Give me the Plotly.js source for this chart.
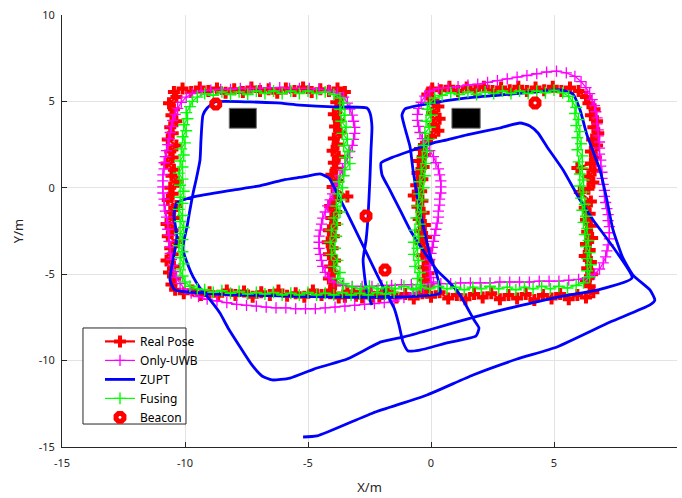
<!DOCTYPE html>
<html>
<head>
<meta charset="utf-8">
<script src="https://cdn.plot.ly/plotly-3.0.1.min.js"></script>
<style>
  html, body { margin: 0; padding: 0; background: #fff; }
  #chart { width: 682px; height: 498px; }
</style>
</head>
<body>
<div id="chart"></div>
<script>
// Ground-truth walk (figure-eight around two rooms), metres
const realPose = [
  [-2.0,-6.15],[-2.35,-6.3],[-2.7,-6.05],[-3.05,-6.25],[-3.4,-6.0],[-3.75,-6.35],[-4.1,-6.1],[-4.45,-6.2],[-4.8,-5.95],[-5.15,-6.3],[-5.5,-6.1],[-5.85,-6.25],[-6.2,-5.95],[-6.55,-6.2],[-6.9,-6.05],[-7.25,-6.3],[-7.6,-6.0],[-7.95,-6.2],[-8.3,-5.95],[-8.65,-6.25],[-9.0,-6.05],[-9.35,-6.2],[-9.7,-5.95],[-10.05,-6.1],[-10.4,-5.9],
  [-10.55,-5.6],[-10.4,-5.25],[-10.65,-4.9],[-10.45,-4.55],[-10.75,-4.2],[-10.5,-3.85],[-10.6,-3.5],[-10.3,-3.15],[-10.7,-2.8],[-10.5,-2.45],[-10.75,-2.1],[-10.45,-1.75],[-10.6,-1.4],[-10.35,-1.05],[-10.7,-0.7],[-10.5,-0.35],[-10.6,0.0],[-10.3,0.35],[-10.55,0.7],[-10.45,1.05],[-10.75,1.4],[-10.5,1.75],[-10.6,2.1],[-10.35,2.45],[-10.7,2.8],[-10.5,3.15],[-10.6,3.5],[-10.35,3.85],[-10.55,4.2],[-10.45,4.55],[-10.65,4.9],[-10.35,5.25],[-10.45,5.55],
  [-10.1,5.75],[-9.75,5.55],[-9.4,5.8],[-9.05,5.6],[-8.7,5.75],[-8.35,5.5],[-8.0,5.7],[-7.65,5.55],[-7.3,5.8],[-6.95,5.6],[-6.6,5.7],[-6.25,5.5],[-5.9,5.75],[-5.55,5.6],[-5.2,5.8],[-4.85,5.55],[-4.5,5.7],[-4.15,5.6],[-3.8,5.75],[-3.5,5.55],
  [-3.65,5.3],[-3.85,4.95],[-3.7,4.6],[-3.95,4.25],[-3.75,3.9],[-3.9,3.55],[-3.7,3.2],[-3.95,2.85],[-3.8,2.5],[-4.0,2.15],[-3.75,1.8],[-3.95,1.45],[-3.85,1.1],[-4.05,0.75],[-3.8,0.4],[-4.0,0.05],[-3.4,-0.5],[-3.9,-0.7],[-4.1,-1.05],[-3.85,-1.4],[-4.05,-1.75],[-3.9,-2.1],[-4.15,-2.45],[-3.95,-2.8],[-4.2,-3.15],[-4.0,-3.5],[-4.15,-3.85],[-3.9,-4.2],[-4.1,-4.55],[-3.95,-4.9],[-4.15,-5.25],[-3.9,-5.6],[-4.1,-5.95],
  [-3.5,-6.3],[-3.15,-6.05],[-2.8,-6.35],[-2.45,-6.1],[-2.1,-6.3],[-1.75,-6.0],[-1.4,-6.35],[-1.05,-6.15],[-0.7,-6.4],[-0.35,-6.1],[0.0,-6.3],[0.35,-6.05],[0.7,-6.4],[1.05,-6.2],[1.4,-6.45],[1.75,-6.15],[2.1,-6.35],[2.45,-6.1],[2.8,-6.45],[3.15,-6.2],[3.5,-6.4],[3.85,-6.15],[4.2,-6.5],[4.55,-6.2],[4.9,-6.4],[5.25,-6.15],[5.6,-6.45],[5.95,-6.2],[6.3,-6.35],[6.6,-6.05],
  [6.45,-5.7],[6.3,-5.35],[6.55,-5.0],[6.35,-4.65],[6.5,-4.3],[6.25,-3.95],[6.45,-3.6],[6.3,-3.25],[6.55,-2.9],[6.35,-2.55],[6.5,-2.2],[6.3,-1.85],[6.45,-1.5],[6.25,-1.15],[6.5,-0.8],[6.05,-0.25],[6.4,-0.05],[6.6,0.3],[6.4,0.65],[6.65,1.0],[5.95,1.15],[6.5,1.4],[6.7,1.75],[6.5,2.1],[6.75,2.45],[6.55,2.8],[6.8,3.15],[6.6,3.5],[6.75,3.85],[6.5,4.2],[6.65,4.55],[6.4,4.9],[6.3,5.25],
  [6.0,5.6],[5.65,5.8],[5.3,5.6],[4.95,5.85],[4.6,5.65],[4.25,5.8],[3.9,5.6],[3.55,5.85],[3.2,5.65],[2.85,5.8],[2.5,5.6],[2.15,5.85],[1.8,5.65],[1.45,5.8],[1.1,5.6],[0.75,5.85],[0.4,5.65],[0.05,5.75],[-0.15,5.4],
  [0.1,5.05],[0.3,4.7],[0.05,4.35],[0.35,4.0],[0.1,3.65],[0.3,3.3],[0.0,2.95],[-0.2,2.6],[-0.45,2.25],[-0.25,1.9],[-0.5,1.55],[-0.3,1.2],[-0.55,0.85],[-0.35,0.5],[-0.6,0.15],[-0.4,-0.2],[-0.7,-0.45],[-0.35,-0.75],[-0.55,-1.1],[-0.3,-1.45],[-0.5,-1.8],[-0.25,-2.15],[-0.45,-2.5],[-0.2,-2.85],[-0.4,-3.2],[-0.15,-3.55],[-0.35,-3.9],[-0.1,-4.25],[-0.3,-4.6],[-0.1,-4.95],[-0.3,-5.3],[-0.1,-5.65],[-0.25,-6.0]
];

// UWB-only position fixes
const onlyUwb = [
  [0.1,-5.45],[-0.3,-5.8],[-0.7,-6.1],[-1.1,-6.35],[-1.5,-6.55],[-1.9,-6.65],[-2.3,-6.7],[-2.7,-6.75],[-3.1,-6.8],[-3.5,-6.85],[-3.9,-6.9],[-4.3,-6.95],[-4.7,-7.0],[-5.1,-7.0],[-5.5,-7.0],[-5.9,-6.95],[-6.3,-6.95],[-6.7,-6.9],[-7.1,-6.85],[-7.5,-6.8],[-7.9,-6.75],[-8.3,-6.65],[-8.7,-6.55],[-9.1,-6.45],[-9.45,-6.3],[-9.75,-6.1],[-10.0,-5.85],[-10.2,-5.55],
  [-10.35,-5.2],[-10.45,-4.85],[-10.5,-4.5],[-10.55,-4.15],[-10.6,-3.8],[-10.6,-3.45],[-10.65,-3.1],[-10.65,-2.75],[-10.7,-2.4],[-10.7,-2.05],[-10.75,-1.7],[-10.8,-1.35],[-10.85,-1.0],[-10.85,-0.65],[-10.9,-0.3],[-10.9,0.05],[-10.9,0.4],[-10.9,0.75],[-10.85,1.1],[-10.85,1.45],[-10.8,1.8],[-10.75,2.15],[-10.7,2.5],[-10.65,2.85],[-10.6,3.2],[-10.55,3.55],[-10.5,3.9],[-10.4,4.25],[-10.3,4.6],[-10.15,4.95],[-9.95,5.25],[-9.7,5.45],
  [-9.35,5.6],[-8.95,5.65],[-8.55,5.7],[-8.15,5.7],[-7.75,5.75],[-7.35,5.75],[-6.95,5.75],[-6.55,5.8],[-6.15,5.8],[-5.75,5.75],[-5.35,5.75],[-4.95,5.75],[-4.55,5.7],[-4.15,5.65],[-3.8,5.5],
  [-3.55,5.25],[-3.4,4.9],[-3.3,4.55],[-3.2,4.2],[-3.15,3.85],[-3.1,3.5],[-3.1,3.15],[-3.15,2.8],[-3.2,2.45],[-3.3,2.1],[-3.4,1.75],[-3.5,1.4],[-3.6,1.05],[-3.7,0.7],[-3.8,0.35],[-3.9,0.0],[-4.0,-0.35],[-4.1,-0.7],[-4.2,-1.05],[-4.3,-1.4],[-4.4,-1.75],[-4.45,-2.1],[-4.5,-2.45],[-4.55,-2.8],[-4.55,-3.15],[-4.55,-3.5],[-4.5,-3.85],[-4.45,-4.2],[-4.4,-4.55],[-4.3,-4.9],[-4.15,-5.2],[-3.95,-5.45],
  [-3.6,-5.65],[-3.2,-5.7],[-2.8,-5.7],[-2.4,-5.7],[-2.0,-5.65],[-1.6,-5.65],[-1.2,-5.6],[-0.8,-5.6],[-0.4,-5.6],[0.0,-5.55],[0.4,-5.55],[0.8,-5.55],[1.2,-5.5],[1.6,-5.5],[2.0,-5.5],[2.4,-5.5],[2.8,-5.45],[3.2,-5.45],[3.6,-5.45],[4.0,-5.45],[4.4,-5.4],[4.8,-5.4],[5.2,-5.4],[5.6,-5.35],[6.0,-5.3],[6.35,-5.2],[6.65,-5.0],
  [6.85,-4.7],[7.0,-4.35],[7.1,-4.0],[7.15,-3.65],[7.2,-3.3],[7.25,-2.95],[7.25,-2.6],[7.25,-2.25],[7.2,-1.9],[7.2,-1.55],[7.15,-1.2],[7.1,-0.85],[7.05,-0.5],[7.05,-0.15],[7.0,0.2],[6.95,0.55],[6.95,0.9],[6.9,1.25],[6.9,1.6],[6.85,1.95],[6.85,2.3],[6.85,2.65],[6.8,3.0],[6.8,3.35],[6.75,3.7],[6.75,4.05],[6.7,4.4],[6.65,4.75],[6.55,5.1],[6.45,5.45],[6.3,5.8],[6.1,6.15],[5.85,6.45],
  [5.5,6.65],[5.1,6.75],[4.7,6.7],[4.3,6.6],[3.9,6.5],[3.5,6.4],[3.1,6.3],[2.7,6.2],[2.3,6.1],[1.9,6.0],[1.5,5.95],[1.1,5.85],[0.7,5.8],[0.3,5.75],[-0.05,5.6],
  [-0.25,5.3],[-0.4,4.95],[-0.5,4.6],[-0.55,4.25],[-0.55,3.9],[-0.5,3.55],[-0.45,3.2],[-0.35,2.85],[-0.2,2.5],[-0.05,2.15],[0.1,1.8],[0.2,1.45],[0.3,1.1],[0.35,0.75],[0.4,0.4],[0.4,0.05],[0.4,-0.3],[0.35,-0.65],[0.35,-1.0],[0.3,-1.35],[0.3,-1.7],[0.25,-2.05],[0.2,-2.4],[0.15,-2.75],[0.1,-3.1],[0.05,-3.45],[0.0,-3.8],[-0.05,-4.15],[-0.05,-4.5],[-0.05,-4.85],[0.0,-5.2]
];

// Foot-mounted IMU dead reckoning with zero-velocity updates
const zupt = [
  [-2.40,-6.78],[-2.60,-6.09],[-2.76,-4.18],[-2.64,-3.02],[-2.56,-1.69],[-2.48,0.63],[-2.44,2.19],[-2.40,3.52],[-2.48,4.33],[-2.60,4.62],
  [-3.98,4.68],[-5.33,4.79],[-6.26,4.91],[-7.36,4.97],[-8.78,4.97],[-9.10,4.62],[-9.27,4.21],[-9.35,2.77],[-9.39,1.61],[-9.55,0.45],
  [-9.67,-0.30],[-9.80,-1.28],[-9.92,-2.27],[-10.04,-3.02],[-10.08,-3.60],[-9.88,-4.47],[-9.67,-5.16],[-9.39,-5.80],[-8.98,-6.49],[-8.58,-7.25],
  [-8.25,-8.11],[-7.76,-9.21],[-7.28,-10.25],[-6.87,-10.89],[-6.46,-11.12],[-5.73,-11.01],[-4.76,-10.49],[-3.41,-9.91],[-2.03,-8.92],[-1.10,-8.63],
  [-0.08,-8.23],[1.75,-7.48],[3.37,-6.90],[5.16,-6.32],[6.79,-5.91],[8.17,-5.22],
  [7.40,-3.43],[6.59,-1.86],[6.06,-0.71],[5.37,1.03],[4.72,2.36],[4.35,3.17],[4.02,3.58],[3.62,3.75],[2.80,3.46],[1.46,3.06],
  [0.65,2.77],[0.08,2.59],[-0.73,2.19],[-1.54,1.78],[-2.03,1.44],[-1.99,0.74],[-1.67,-0.13],[-1.26,-1.28],[-0.85,-2.44],[-0.33,-3.60],
  [0.24,-4.76],[0.77,-5.51],[1.18,-6.20],[1.46,-6.90],[1.75,-7.65],[1.95,-8.11],[1.83,-8.58],[0.65,-8.98],[-0.45,-9.39],[-0.93,-9.44],
  [-1.14,-8.92],[-1.30,-7.94],[-1.50,-6.96],[-1.67,-6.49],[-1.95,-5.74],[-2.48,-4.18],[-3.01,-2.62],[-3.41,-1.46],[-3.82,-0.30],[-4.15,0.57],
  [-4.51,0.80],[-5.20,0.63],[-6.02,0.45],[-7.03,0.10],[-8.05,-0.13],[-9.67,-0.53],[-10.33,-0.88],[-10.45,-1.57],[-10.33,-2.85],[-10.49,-4.18],
  [-10.61,-5.34],[-10.41,-5.91],[-8.58,-6.15],[-6.14,-6.26],[-3.70,-6.32],[-1.26,-6.32],[0.37,-6.09],
  [0.24,-5.05],[-0.04,-3.89],[-0.28,-2.44],[-0.53,-0.71],[-0.73,1.03],[-0.85,2.36],[-1.06,3.46],[-1.18,4.21],[-1.06,4.56],
  [0.08,4.91],[1.46,5.20],[2.80,5.37],[4.15,5.54],[5.24,5.66],[5.77,5.43],[6.06,4.50],[6.34,3.06],[6.87,1.03],[7.15,-0.71],
  [7.40,-2.44],[7.80,-4.06],[8.21,-5.05],[8.90,-5.91],[9.10,-6.49],[8.90,-6.78],[7.28,-7.77],[5.12,-9.21],[3.50,-9.91],[1.71,-10.83],
  [-0.16,-11.99],[-2.36,-13.03],[-4.63,-14.36],[-5.20,-14.42]
];

// UWB + IMU fused estimate
const fusing = [
  [-1.5,-6.05],[-1.85,-6.15],[-2.2,-6.05],[-2.55,-6.2],[-2.9,-6.1],[-3.25,-6.2],[-3.6,-6.05],[-3.95,-6.2],[-4.3,-6.1],[-4.65,-6.2],[-5.0,-6.05],[-5.35,-6.2],[-5.7,-6.1],[-6.05,-6.2],[-6.4,-6.05],[-6.75,-6.15],[-7.1,-6.05],[-7.45,-6.15],[-7.8,-6.0],[-8.15,-6.1],[-8.5,-5.95],[-8.85,-6.05],[-9.2,-5.9],[-9.5,-5.85],[-9.8,-5.7],[-10.0,-5.45],
  [-10.1,-5.1],[-10.2,-4.75],[-10.05,-4.4],[-10.2,-4.05],[-10.1,-3.7],[-10.25,-3.35],[-10.1,-3.0],[-10.2,-2.65],[-10.05,-2.3],[-10.2,-1.95],[-10.1,-1.6],[-10.25,-1.25],[-10.1,-0.9],[-10.2,-0.55],[-10.05,-0.2],[-10.2,0.15],[-10.1,0.5],[-10.25,0.85],[-10.1,1.2],[-10.2,1.55],[-10.05,1.9],[-10.15,2.25],[-10.0,2.6],[-10.1,2.95],[-9.95,3.3],[-10.05,3.65],[-9.9,4.0],[-9.95,4.35],[-9.8,4.7],[-9.7,5.0],[-9.5,5.25],
  [-9.2,5.45],[-8.85,5.35],[-8.5,5.55],[-8.15,5.4],[-7.8,5.55],[-7.45,5.4],[-7.1,5.6],[-6.75,5.45],[-6.4,5.6],[-6.05,5.45],[-5.7,5.6],[-5.35,5.45],[-5.0,5.6],[-4.65,5.45],[-4.3,5.55],[-3.95,5.4],[-3.7,5.2],
  [-3.55,4.9],[-3.7,4.55],[-3.5,4.2],[-3.65,3.85],[-3.45,3.5],[-3.6,3.15],[-3.4,2.8],[-3.55,2.45],[-3.35,2.1],[-3.5,1.75],[-3.3,1.4],[-3.5,1.05],[-3.55,0.7],[-3.75,0.35],[-3.6,0.0],[-3.8,-0.35],[-3.65,-0.7],[-3.85,-1.05],[-3.7,-1.4],[-3.95,-1.75],[-3.8,-2.1],[-4.05,-2.45],[-3.85,-2.8],[-4.1,-3.15],[-3.9,-3.5],[-4.05,-3.85],[-3.8,-4.2],[-3.95,-4.55],[-3.7,-4.9],[-3.8,-5.25],[-3.55,-5.55],
  [-3.2,-5.75],[-2.85,-5.85],[-2.5,-5.7],[-2.15,-5.85],[-1.8,-5.75],[-1.45,-5.85],[-1.1,-5.7],[-0.75,-5.85],[-0.4,-5.75],[-0.05,-5.85],[0.3,-5.7],[0.65,-5.85],[1.0,-5.75],[1.35,-5.9],[1.7,-5.75],[2.05,-5.85],[2.4,-5.7],[2.75,-5.85],[3.1,-5.75],[3.45,-5.9],[3.8,-5.75],[4.15,-5.85],[4.5,-5.7],[4.85,-5.85],[5.2,-5.7],[5.55,-5.8],[5.9,-5.65],[6.2,-5.5],
  [6.45,-5.15],[6.35,-4.8],[6.5,-4.45],[6.35,-4.1],[6.45,-3.75],[6.3,-3.4],[6.4,-3.05],[6.25,-2.7],[6.35,-2.35],[6.2,-2.0],[6.3,-1.65],[6.15,-1.3],[6.25,-0.95],[6.1,-0.6],[6.2,-0.25],[6.05,0.1],[6.2,0.45],[6.05,0.8],[6.15,1.15],[6.0,1.5],[6.15,1.85],[5.95,2.2],[6.1,2.55],[5.95,2.9],[6.05,3.25],[5.9,3.6],[6.0,3.95],[5.85,4.3],[5.9,4.65],[5.75,5.0],[5.6,5.3],
  [5.35,5.5],[5.0,5.65],[4.65,5.5],[4.3,5.6],[3.95,5.45],[3.6,5.6],[3.25,5.45],[2.9,5.6],[2.55,5.45],[2.2,5.55],[1.85,5.4],[1.5,5.55],[1.15,5.4],[0.8,5.5],[0.45,5.35],[0.15,5.2],
  [-0.05,4.9],[-0.15,4.55],[0.0,4.2],[-0.2,3.85],[-0.05,3.5],[-0.25,3.15],[-0.1,2.8],[-0.3,2.45],[-0.15,2.1],[-0.35,1.75],[-0.2,1.4],[-0.4,1.05],[-0.25,0.7],[-0.45,0.35],[-0.3,0.0],[-0.5,-0.35],[-0.35,-0.7],[-0.55,-1.05],[-0.4,-1.4],[-0.6,-1.75],[-0.45,-2.1],[-0.65,-2.45],[-0.5,-2.8],[-0.7,-3.15],[-0.55,-3.5],[-0.7,-3.85],[-0.5,-4.2],[-0.65,-4.55],[-0.45,-4.9],[-0.55,-5.25],[-0.4,-5.6],[-0.6,-5.9]
];

// UWB anchor positions
const beacons = [[-8.75,4.85],[-2.64,-1.63],[-1.87,-4.76],[4.23,4.91]];

// Furniture blocks: [x0, x1, y0, y1]
const obstacles = [[-8.2,-7.1,3.45,4.6],[0.85,2.0,3.45,4.6]];

const axisTicks = [-15,-10,-5,0,5,10];
const seriesNames = ['Real Pose','Only-UWB','ZUPT','Fusing','Beacon'];

const xs = pts => pts.map(p => p[0]);
const ys = pts => pts.map(p => p[1]);

const FONT = '"Noto Sans", "DejaVu Sans", sans-serif';
const INK = '#262626';

const traces = [
  {
    name: seriesNames[0], x: xs(realPose), y: ys(realPose),
    mode: 'lines+markers', type: 'scatter',
    line: {color: '#ff0000', width: 2.2},
    marker: {symbol: 'cross', size: 10, color: '#ff0000', line: {width: 0}}
  },
  {
    name: seriesNames[1], x: xs(onlyUwb), y: ys(onlyUwb),
    mode: 'lines+markers', type: 'scatter',
    line: {color: '#ff00ff', width: 1.2},
    marker: {symbol: 'cross-thin', size: 8, color: '#ff00ff', line: {width: 1.3, color: '#ff00ff'}}
  },
  {
    name: seriesNames[2], x: xs(zupt), y: ys(zupt),
    mode: 'lines', type: 'scatter',
    line: {color: '#0000ff', width: 2.8, shape: 'spline', smoothing: 0.5}
  },
  {
    name: seriesNames[3], x: xs(fusing), y: ys(fusing),
    mode: 'lines+markers', type: 'scatter',
    line: {color: '#00ff00', width: 1.2},
    marker: {symbol: 'cross-thin', size: 8.5, color: '#00ff00', line: {width: 1.4, color: '#00ff00'}}
  },
  {
    name: seriesNames[4], x: xs(beacons), y: ys(beacons),
    mode: 'markers', type: 'scatter',
    marker: {symbol: 'octagon-open', size: 8.5, color: '#ff0000', line: {width: 5, color: '#ff0000'}}
  }
];

const shapes = obstacles.map(o => ({
  type: 'rect', xref: 'x', yref: 'y', x0: o[0], x1: o[1], y0: o[2], y1: o[3],
  fillcolor: '#000000', line: {color: '#6e6e6e', width: 1}, layer: 'above'
}));

// legend frame
shapes.push({
  type: 'rect', xref: 'paper', yref: 'paper',
  x0: 0.0341, x1: 0.2016, y0: 0.0532, y1: 0.2755,
  fillcolor: '#ffffff', line: {color: INK, width: 1}, layer: 'above'
});

const axisCommon = {
  range: [-15, 10], tickmode: 'array', tickvals: axisTicks, ticktext: axisTicks.map(String),
  showgrid: true, gridcolor: '#e3e3e3', gridwidth: 1, zeroline: false,
  showline: true, linecolor: INK, linewidth: 1,
  ticks: 'inside', ticklen: 5, tickcolor: INK, tickwidth: 1,
  tickfont: {family: FONT, size: 11, color: INK},
  fixedrange: true
};

const layout = {
  width: 682, height: 498,
  margin: {l: 62, r: 5, t: 15, b: 51, pad: 0},
  paper_bgcolor: '#ffffff', plot_bgcolor: '#ffffff',
  showlegend: true,
  legend: {
    x: 0.0618, y: 0.278, xanchor: 'left', yanchor: 'top',
    bgcolor: 'rgba(0,0,0,0)', borderwidth: 0,
    font: {family: FONT, size: 12, color: '#000000'}
  },
  xaxis: Object.assign({}, axisCommon, {
    title: {text: 'X/m', font: {family: FONT, size: 13, color: INK}, standoff: 13},
    ticklabelstandoff: 6
  }),
  yaxis: Object.assign({}, axisCommon, {
    title: {text: 'Y/m', font: {family: FONT, size: 13, color: INK}, standoff: 12},
    ticklabelstandoff: 4
  }),
  shapes: shapes
};

Plotly.newPlot('chart', traces, layout, {displayModeBar: false, staticPlot: true});
</script>
</body>
</html>
